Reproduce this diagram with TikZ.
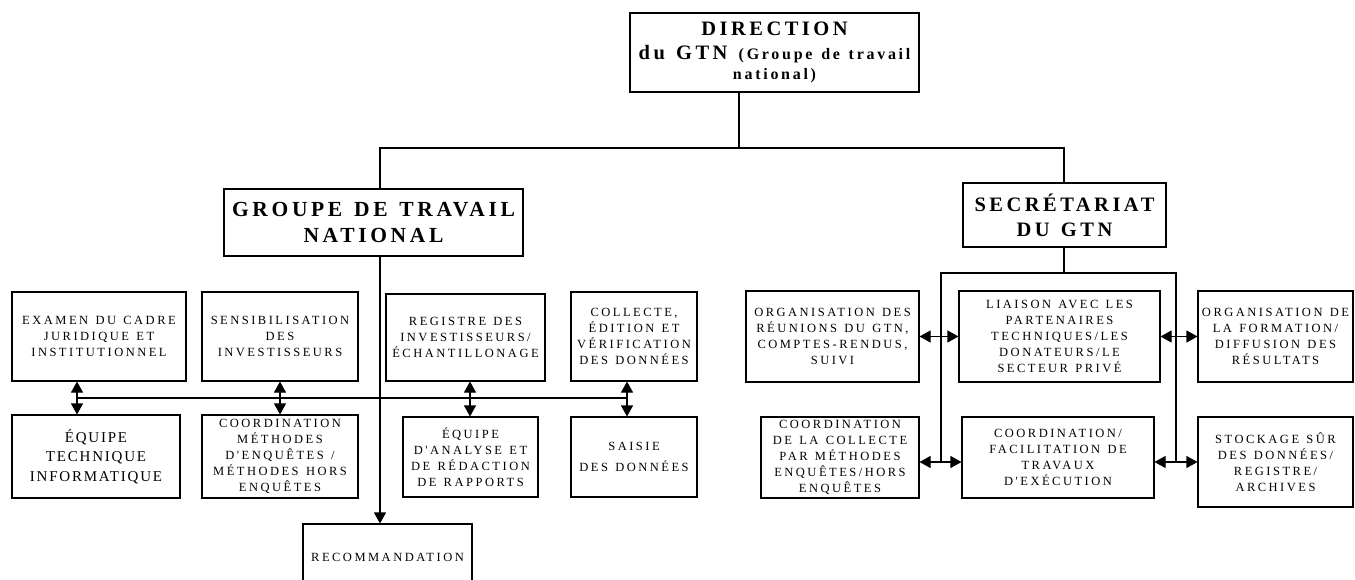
\documentclass[tikz,border=0pt]{standalone}
\usepackage{fontspec}
\setmainfont{Liberation Serif}
\newfontfamily\sfont[LetterSpace=20,WordSpace=1.3]{Liberation Serif}
\newfontfamily\bfont[LetterSpace=12,WordSpace=1.3]{Liberation Serif}
\newfontfamily\tfont[LetterSpace=17,WordSpace=1.3]{Liberation Serif}
\usetikzlibrary{arrows.meta}
\begin{document}
\begin{tikzpicture}[x=1pt,y=-1pt,
  box/.style={draw, line width=1.1pt, inner sep=0pt, align=center,
    font=\sfont\fontsize{12.5}{16}\selectfont},
  bigbox/.style={box, font=\bfont\fontsize{15}{19.5}\selectfont},
  title/.style={box, font=\tfont\bfseries\fontsize{20.5}{26}\selectfont},
  bigtitle/.style={box, font=\tfont\bfseries\fontsize{21.5}{26}\selectfont},
  conn/.style={line width=1.1pt},
  dbl/.style={line width=1.1pt, {Triangle[width=12pt,length=11pt]}-{Triangle[width=12pt,length=11pt]}},
  onearrow/.style={line width=1.1pt, -{Triangle[width=12pt,length=11pt]}},
]
\clip (0,0) rectangle (1355,580);
\fill[white] (0,0) rectangle (1355,580);

% top level
\node[title, minimum width=289pt, minimum height=79pt] (dir) at (774.5,52.5)
  {DIRECTION\\[-2pt]
   du GTN {\fontsize{16}{20}\selectfont (Groupe de travail}\\[-6pt]
   {\fontsize{16}{20}\selectfont national)}};
\node[bigtitle, minimum width=299pt, minimum height=67pt] (gtn) at (373.5,222.5)
  {GROUPE DE TRAVAIL\\NATIONAL};
\node[title, minimum width=203pt, minimum height=64pt] (sec) at (1064.5,215)
  {SECRÉTARIAT\\[-1pt]DU GTN};

% left group
\node[box, minimum width=174pt, minimum height=89pt] (exam) at (99,336.5)
  {EXAMEN DU CADRE\\JURIDIQUE ET\\INSTITUTIONNEL};
\node[box, minimum width=156pt, minimum height=89pt] (sens) at (280,336.5)
  {SENSIBILISATION\\DES\\INVESTISSEURS};
\node[box, minimum width=159pt, minimum height=87pt] (reg) at (465.5,337.5)
  {REGISTRE DES\\INVESTISSEURS/\\ÉCHANTILLONAGE};
\node[box, minimum width=126pt, minimum height=89pt] (coll) at (634,336.5)
  {COLLECTE,\\ÉDITION ET\\VÉRIFICATION\\DES DONNÉES};
\node[bigbox, minimum width=168pt, minimum height=83pt] (eqt) at (96,456.5)
  {ÉQUIPE\\TECHNIQUE\\INFORMATIQUE};
\node[box, minimum width=156pt, minimum height=83pt] (coord) at (280,456.5)
  {COORDINATION\\MÉTHODES\\D'ENQUÊTES /\\MÉTHODES HORS\\ENQUÊTES};
\node[box, minimum width=135pt, minimum height=80pt] (eqa) at (470.5,457)
  {ÉQUIPE\\D'ANALYSE ET\\DE RÉDACTION\\DE RAPPORTS};
\node[box, minimum width=126pt, minimum height=80pt] (sais) at (634,457)
  {SAISIE\\[5pt]DES DONNÉES};
\node[box, minimum width=169pt, minimum height=66pt] (rec) at (387.5,557)
  {RECOMMANDATION};

% right group
\node[box, minimum width=173pt, minimum height=91pt] (org) at (832.5,336.5)
  {ORGANISATION DES\\RÉUNIONS DU GTN,\\COMPTES-RENDUS,\\SUIVI};
\node[box, minimum width=201pt, minimum height=91pt] (liai) at (1059.5,336.5)
  {LIAISON AVEC LES\\PARTENAIRES\\TECHNIQUES/LES\\DONATEURS/LE\\SECTEUR PRIVÉ};
\node[box, minimum width=155pt, minimum height=91pt] (form) at (1275.5,336.5)
  {ORGANISATION DE\\LA FORMATION/\\DIFFUSION DES\\RÉSULTATS};
\node[box, minimum width=158pt, minimum height=81pt] (ccol) at (840,457.5)
  {COORDINATION\\DE LA COLLECTE\\PAR MÉTHODES\\ENQUÊTES/HORS\\ENQUÊTES};
\node[box, minimum width=192pt, minimum height=81pt] (cfac) at (1058,457.5)
  {COORDINATION/\\FACILITATION DE\\TRAVAUX\\D'EXÉCUTION};
\node[box, minimum width=155pt, minimum height=90pt] (stock) at (1275.5,462)
  {STOCKAGE SÛR\\DES DONNÉES/\\REGISTRE/\\ARCHIVES};

% junction coordinates
\coordinate (t0) at (739,148);
\coordinate (tl) at (380,148);
\coordinate (tr) at (1064,148);
\coordinate (a1) at (77,398);
\coordinate (a2) at (280,398);
\coordinate (a3) at (470,398);
\coordinate (a4) at (627,398);
\coordinate (r1) at (941,273);
\coordinate (r2) at (1176,273);
\coordinate (b1) at (941,462);
\coordinate (b2) at (1176,462);

% top connectors
\draw[conn] (dir.south -| t0) -- (t0);
\draw[conn] (gtn.north -| tl) -- (tl) -- (tr) -- (sec.north -| tr);
\draw[onearrow] (gtn.south -| tl) -- (rec.north -| tl);

% left bus
\draw[conn] (a1) -- (a4);
\draw[dbl] (exam.south -| a1) -- (eqt.north -| a1);
\draw[dbl] (sens.south -| a2) -- (coord.north -| a2);
\draw[dbl] (reg.south -| a3) -- (eqa.north -| a3);
\draw[dbl] (coll.south -| a4) -- (sais.north -| a4);

% right bracket
\draw[conn] (sec.south -| tr) -- (tr |- r1);
\draw[conn] (b1) -- (r1) -- (r2) -- (b2);
\draw[dbl] (org.east) -- (org.east -| liai.west);
\draw[dbl] (liai.east) -- (liai.east -| form.west);
\draw[dbl] (ccol.east |- b1) -- (cfac.west |- b1);
\draw[dbl] (cfac.east |- b2) -- (stock.west |- b2);
\end{tikzpicture}
\end{document}
